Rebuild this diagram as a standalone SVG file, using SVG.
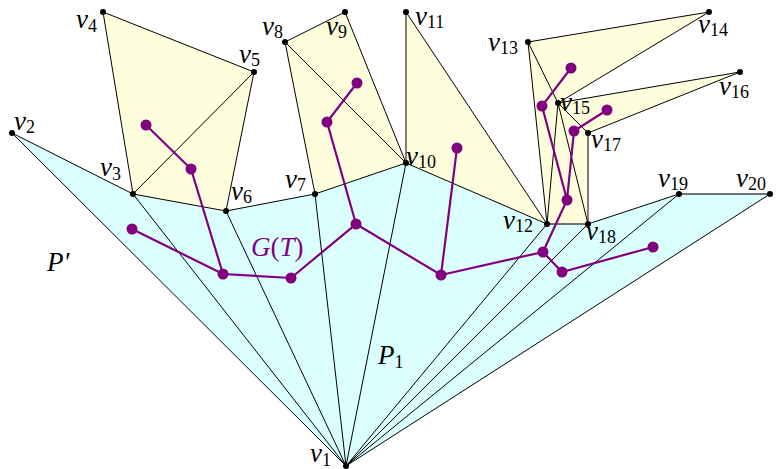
<svg xmlns="http://www.w3.org/2000/svg" width="777" height="469" viewBox="0 0 777 469">
<style>
.cy{fill:#dbffff;stroke:none}
.ye{fill:#fefedc;stroke:none}
.e{stroke:#000;stroke-width:1;fill:none}
.eg{stroke:#444;stroke-width:1.6;fill:none}
.t{stroke:#800080;stroke-width:2.2;fill:none}
.d{fill:#000}
.p{fill:#800080}
.l{font-family:"Liberation Serif",serif;font-style:italic;font-size:27px;fill:#000}
.s{font-style:normal;font-size:18px}
.g{font-family:"Liberation Serif",serif;font-style:italic;font-size:27px;fill:#800080}
.u{font-style:normal}
</style>
<g id="regions">
<polygon class="cy" points="346,466 12,133 133,194 226,211 315,194 406,163 547,224 588,224 679,194 770,194"/>
<polygon class="ye" points="133,194 103,12 254,72 226,211"/>
<polygon class="ye" points="315,194 285,42 345,12 406,163"/>
<polygon class="ye" points="406,163 406,12 547,224"/>
<polygon class="ye" points="547,224 528,42 709,12 558,103 740,72 588,133 588,224"/>
</g>
<g id="connectors">
<path class="e" d="M12,133 L133,194 L226,211 L315,194 L406,163 L547,224"/>
<path class="e" d="M133,194 L103,12 L254,72 L226,211 M133,194 L254,72"/>
<path class="e" d="M315,194 L285,42 L345,12 L406,163 M285,42 L406,163"/>
<path class="e" d="M406,163 L406,12 L547,224"/>
<path class="e" d="M547,224 L528,42 L709,12 L558,103 L740,72 L588,133 L588,224 M528,42 L558,103 L547,224 M558,103 L588,224 M558,103 L588,133"/>
<path class="eg" d="M547,224 L588,224"/>
<path class="e" d="M588,224 L679,194"/>
<path class="eg" d="M679,194 L770,194"/>
<path class="e" d="M346,466 L12,133 M346,466 L133,194 M346,466 L226,211 M346,466 L315,194 M346,466 L406,163 M346,466 L547,224 M346,466 L588,224 M346,466 L679,194 M346,466 L770,194"/>
</g>
<g id="tree-edges">
<path class="t" d="M146,125 L191,169 L223,274 L291,278 L356,224 L327,122 L357,83"/>
<path class="t" d="M132,229 L223,274"/>
<path class="t" d="M356,224 L441,275 L457,148 M441,275 L543,252 L567,200 L574,131 L607,110 M567,200 L542,106 L571,68"/>
<path class="t" d="M543,252 L562,272 L653,247"/>
</g>
<g id="tree-nodes">
<g id="t1"><circle class="p" cx="146" cy="125" r="5.5"/></g>
<g id="t2"><circle class="p" cx="191" cy="169" r="5.5"/></g>
<g id="t3"><circle class="p" cx="223" cy="274" r="5.5"/></g>
<g id="t4"><circle class="p" cx="132" cy="229" r="5.5"/></g>
<g id="t5"><circle class="p" cx="291" cy="278" r="5.5"/></g>
<g id="t6"><circle class="p" cx="356" cy="224" r="5.5"/></g>
<g id="t7"><circle class="p" cx="327" cy="122" r="5.5"/></g>
<g id="t8"><circle class="p" cx="357" cy="83" r="5.5"/></g>
<g id="t9"><circle class="p" cx="441" cy="275" r="5.5"/></g>
<g id="t10"><circle class="p" cx="457" cy="148" r="5.5"/></g>
<g id="t11"><circle class="p" cx="543" cy="252" r="5.5"/></g>
<g id="t12"><circle class="p" cx="567" cy="200" r="5.5"/></g>
<g id="t13"><circle class="p" cx="574" cy="131" r="5.5"/></g>
<g id="t14"><circle class="p" cx="607" cy="110" r="5.5"/></g>
<g id="t15"><circle class="p" cx="542" cy="106" r="5.5"/></g>
<g id="t16"><circle class="p" cx="571" cy="68" r="5.5"/></g>
<g id="t17"><circle class="p" cx="562" cy="272" r="5.5"/></g>
<g id="t18"><circle class="p" cx="653" cy="247" r="5.5"/></g>
</g>
<g id="vertices">
<g id="v1"><circle class="d" cx="346" cy="466" r="3"/><text class="l" x="310" y="462">v<tspan class="s" dy="4">1</tspan></text></g>
<g id="v2"><circle class="d" cx="12" cy="133" r="3"/><text class="l" x="14" y="130">v<tspan class="s" dy="3">2</tspan></text></g>
<g id="v3"><circle class="d" cx="133" cy="194" r="3"/><text class="l" x="100" y="176">v<tspan class="s" dy="4">3</tspan></text></g>
<g id="v4"><circle class="d" cx="103" cy="12" r="3"/><text class="l" x="76" y="28">v<tspan class="s" dy="4">4</tspan></text></g>
<g id="v5"><circle class="d" cx="254" cy="72" r="3"/><text class="l" x="239" y="63">v<tspan class="s" dy="3">5</tspan></text></g>
<g id="v6"><circle class="d" cx="226" cy="211" r="3"/><text class="l" x="231" y="200">v<tspan class="s" dy="3">6</tspan></text></g>
<g id="v7"><circle class="d" cx="315" cy="194" r="3"/><text class="l" x="285" y="188">v<tspan class="s" dy="3">7</tspan></text></g>
<g id="v8"><circle class="d" cx="285" cy="42" r="3"/><text class="l" x="262" y="35">v<tspan class="s" dy="3">8</tspan></text></g>
<g id="v9"><circle class="d" cx="345" cy="12" r="3"/><text class="l" x="326" y="35">v<tspan class="s" dy="3">9</tspan></text></g>
<g id="v10"><circle class="d" cx="406" cy="163" r="3"/><text class="l" x="406" y="165">v<tspan class="s" dy="3">10</tspan></text></g>
<g id="v11"><circle class="d" cx="406" cy="12" r="3"/><text class="l" x="415" y="25">v<tspan class="s" dy="3">11</tspan></text></g>
<g id="v12"><circle class="d" cx="547" cy="224" r="3"/><text class="l" x="503" y="229">v<tspan class="s" dy="3">12</tspan></text></g>
<g id="v13"><circle class="d" cx="528" cy="42" r="3"/><text class="l" x="488" y="51">v<tspan class="s" dy="3">13</tspan></text></g>
<g id="v14"><circle class="d" cx="709" cy="12" r="3"/><text class="l" x="698" y="33">v<tspan class="s" dy="3">14</tspan></text></g>
<g id="v15"><circle class="d" cx="558" cy="103" r="3"/><text class="l" x="560" y="111">v<tspan class="s" dy="3">15</tspan></text></g>
<g id="v16"><circle class="d" cx="740" cy="72" r="3"/><text class="l" x="719" y="95">v<tspan class="s" dy="3">16</tspan></text></g>
<g id="v17"><circle class="d" cx="588" cy="133" r="3"/><text class="l" x="591" y="148">v<tspan class="s" dy="3">17</tspan></text></g>
<g id="v18"><circle class="d" cx="588" cy="224" r="3"/><text class="l" x="586" y="240">v<tspan class="s" dy="3">18</tspan></text></g>
<g id="v19"><circle class="d" cx="679" cy="194" r="3"/><text class="l" x="658" y="187">v<tspan class="s" dy="3">19</tspan></text></g>
<g id="v20"><circle class="d" cx="770" cy="194" r="3"/><text class="l" x="736" y="187">v<tspan class="s" dy="3">20</tspan></text></g>
</g>
<g id="labels">
<text class="l" x="47" y="271">P′</text>
<text class="l" x="378" y="364">P<tspan class="s" dy="4">1</tspan></text>
<text class="g" x="251" y="256">G<tspan class="u">(</tspan>T<tspan class="u">)</tspan></text>
</g>
</svg>
